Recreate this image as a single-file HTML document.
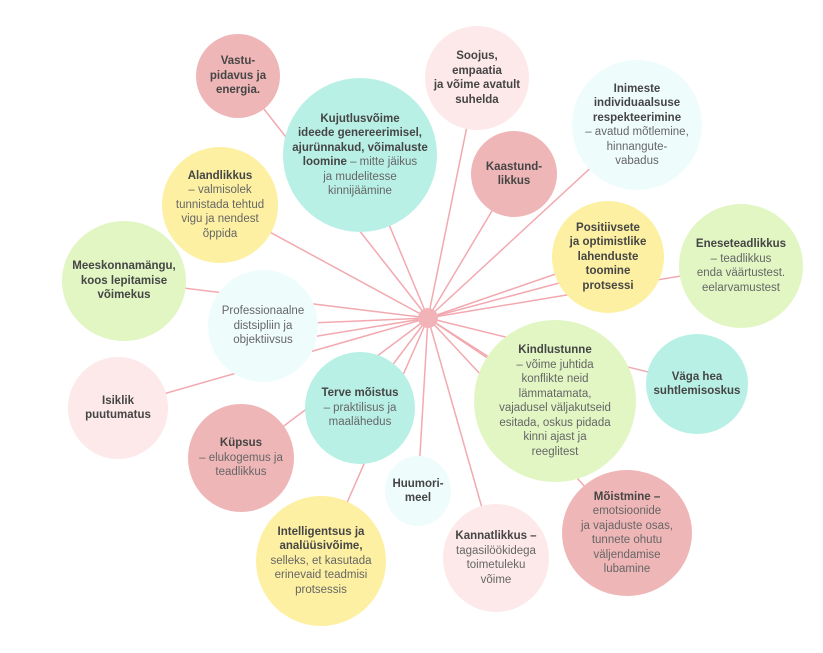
<!DOCTYPE html>
<html><head><meta charset="utf-8"><style>
body{margin:0;width:823px;height:653px;background:#fff;position:relative;overflow:hidden;font-family:"Liberation Sans",sans-serif}
svg{position:absolute;left:0;top:0}
.c{position:absolute;border-radius:50%;display:flex;align-items:center;justify-content:center;text-align:center;font-size:11.5px;line-height:14.5px;color:#666;box-sizing:border-box;padding:4px}
.c b{color:#454545}
.pr{background:#efb6b7}.lp{background:#fde9e9}.tl{background:#b9f0e6}.lc{background:#effcfc}.ye{background:#fdf0a2}.gr{background:#e1f6c3}
</style></head><body>
<svg width="823" height="653">
<g stroke="#f2a9b0" stroke-width="1.5">
<line x1="428" y1="318" x2="238" y2="76"/>
<line x1="428" y1="318" x2="477" y2="77"/>
<line x1="428" y1="318" x2="360" y2="155"/>
<line x1="428" y1="318" x2="636" y2="126"/>
<line x1="428" y1="318" x2="514" y2="174"/>
<line x1="428" y1="318" x2="220" y2="205"/>
<line x1="428" y1="318" x2="608" y2="256"/>
<line x1="428" y1="318" x2="608" y2="270"/>
<line x1="428" y1="318" x2="741" y2="266"/>
<line x1="428" y1="318" x2="126" y2="281"/>
<line x1="428" y1="318" x2="263" y2="325"/>
<line x1="428" y1="318" x2="263" y2="345"/>
<line x1="428" y1="318" x2="556" y2="400"/>
<line x1="428" y1="318" x2="697" y2="384"/>
<line x1="428" y1="318" x2="118" y2="407"/>
<line x1="428" y1="318" x2="360" y2="408"/>
<line x1="428" y1="318" x2="241" y2="458"/>
<line x1="428" y1="318" x2="418" y2="489"/>
<line x1="428" y1="318" x2="321" y2="562"/>
<line x1="428" y1="318" x2="496" y2="557"/>
<line x1="428" y1="318" x2="628" y2="533"/>
<line x1="428" y1="318" x2="520" y2="380"/>
</g>
<circle cx="428" cy="318" r="10" fill="#f2b3b8"/>
</svg>
<div class="c pr" style="left:196px;top:34px;width:84px;height:84px"><b>Vastu-<br>pidavus ja<br>energia.</b></div>
<div class="c lp" style="left:425px;top:26px;width:104px;height:104px"><b>Soojus,<br>empaatia<br>ja võime avatult<br>suhelda</b></div>
<div class="c tl" style="left:283px;top:78px;width:154px;height:154px"><span><b>Kujutlusvõime<br>ideede genereerimisel,<br>ajurünnakud, võimaluste<br>loomine</b> – mitte jäikus<br>ja mudelitesse<br>kinnijäämine</span></div>
<div class="c lc" style="left:572px;top:60px;width:130px;height:130px"><span><b>Inimeste<br>individuaalsuse<br>respekteerimine</b><br>– avatud mõtlemine,<br>hinnangute-<br>vabadus</span></div>
<div class="c pr" style="left:471px;top:131px;width:86px;height:86px"><b>Kaastund-<br>likkus</b></div>
<div class="c ye" style="left:162px;top:147px;width:116px;height:116px"><span><b>Alandlikkus</b><br>– valmisolek<br>tunnistada tehtud<br>vigu ja nendest<br>õppida</span></div>
<div class="c ye" style="left:552px;top:201px;width:112px;height:112px"><b>Positiivsete<br>ja optimistlike<br>lahenduste<br>toomine<br>protsessi</b></div>
<div class="c gr" style="left:679px;top:204px;width:124px;height:124px"><span><b>Eneseteadlikkus</b><br>– teadlikkus<br>enda väärtustest.<br>eelarvamustest</span></div>
<div class="c gr" style="left:62px;top:221px;width:124px;height:120px"><b>Meeskonnamängu,<br>koos lepitamise<br>võimekus</b></div>
<div class="c lc" style="left:208px;top:270px;width:110px;height:112px"><span>Professionaalne<br>distsipliin ja<br>objektiivsus</span></div>
<div class="c gr" style="left:474px;top:320px;width:162px;height:162px"><span><b>Kindlustunne</b><br>– võime juhtida<br>konflikte neid<br>lämmatamata,<br>vajadusel väljakutseid<br>esitada, oskus pidada<br>kinni ajast ja<br>reeglitest</span></div>
<div class="c tl" style="left:646px;top:334px;width:102px;height:100px"><b>Väga hea<br>suhtlemisoskus</b></div>
<div class="c lp" style="left:68px;top:357px;width:100px;height:102px"><b>Isiklik<br>puutumatus</b></div>
<div class="c tl" style="left:305px;top:352px;width:110px;height:112px"><span><b>Terve mõistus</b><br>– praktilisus ja<br>maalähedus</span></div>
<div class="c pr" style="left:188px;top:404px;width:106px;height:108px"><span><b>Küpsus</b><br>– elukogemus ja<br>teadlikkus</span></div>
<div class="c lc" style="left:385px;top:456px;width:66px;height:70px"><b>Huumori-<br>meel</b></div>
<div class="c ye" style="left:256px;top:496px;width:130px;height:130px"><span><b>Intelligentsus ja<br>analüüsivõime,</b><br>selleks, et kasutada<br>erinevaid teadmisi<br>protsessis</span></div>
<div class="c lp" style="left:443px;top:504px;width:106px;height:108px"><span><b>Kannatlikkus –</b><br>tagasilöökidega<br>toimetuleku<br>võime</span></div>
<div class="c pr" style="left:562px;top:470px;width:130px;height:126px"><span><b>Mõistmine –</b><br>emotsioonide<br>ja vajaduste osas,<br>tunnete ohutu<br>väljendamise<br>lubamine</span></div>
</body></html>
